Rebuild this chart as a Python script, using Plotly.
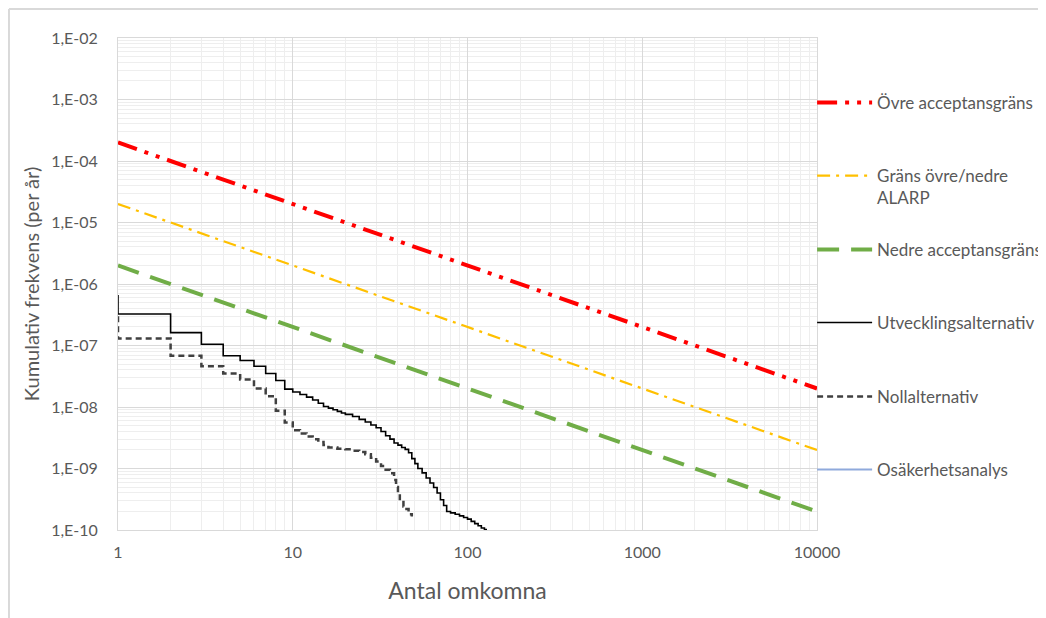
import plotly.graph_objects as go

# ---- data ----
limit_n = [1, 10000]
ovre_acceptans = [2e-4, 2e-8]
grans_alarp = [2e-5, 2e-9]
nedre_acceptans = [2e-6, 2e-10]

utv_n = [1, 1, 2, 3, 4, 5, 6, 7, 8, 9, 10, 11, 12, 13, 14, 15, 16, 17, 18, 19, 20,
         22, 24, 26, 28, 30, 32, 34, 36, 38, 40, 42, 44, 46, 48, 50, 52, 55, 58, 61,
         64, 67, 70, 73, 76, 80, 85, 90, 95, 100, 105, 110, 115, 120, 125, 128]
utv_f = [6.6e-7, 3.25e-7, 1.62e-7, 1.05e-7, 6.8e-8, 5.7e-8, 4.6e-8, 3.5e-8, 2.7e-8, 1.95e-8,
         1.75e-8, 1.6e-8, 1.45e-8, 1.3e-8, 1.15e-8, 1.02e-8, 9.6e-9, 9.0e-9, 8.5e-9, 8.0e-9, 7.6e-9,
         7.0e-9, 6.3e-9, 5.7e-9, 5.1e-9, 4.6e-9, 4.0e-9, 3.4e-9, 3.0e-9, 2.6e-9, 2.4e-9, 2.2e-9,
         2.05e-9, 1.8e-9, 1.45e-9, 1.2e-9, 1.0e-9, 8.5e-10, 7.0e-10, 5.8e-10, 4.9e-10, 4.0e-10,
         3.1e-10, 2.5e-10, 2.0e-10, 1.9e-10, 1.8e-10, 1.7e-10, 1.6e-10, 1.5e-10, 1.38e-10,
         1.27e-10, 1.17e-10, 1.08e-10, 1.02e-10, 1.0e-10]

noll_n = [1, 1, 2, 3, 4, 5, 6, 7, 8, 9, 10, 11, 12, 13, 14, 15, 16, 18, 20, 22, 24, 26, 28,
          30, 32, 34, 36, 38, 39, 40, 41, 43, 44, 46, 48]
noll_f = [3.0e-7, 1.3e-7, 6.8e-8, 4.6e-8, 3.5e-8, 2.8e-8, 2.0e-8, 1.5e-8, 8.7e-9, 5.6e-9,
          4.2e-9, 3.7e-9, 3.3e-9, 3.0e-9, 2.7e-9, 2.4e-9, 2.2e-9, 2.1e-9, 2.05e-9, 1.95e-9,
          1.85e-9, 1.7e-9, 1.5e-9, 1.3e-9, 1.1e-9, 9.5e-10, 8.4e-10, 6.5e-10, 5.0e-10, 4.0e-10,
          3.0e-10, 2.4e-10, 2.2e-10, 1.8e-10, 1.65e-10]

# uncertainty analysis series: no visible points in the chart
osak_n = [None]
osak_f = [None]

y_tickvals = [1e-10, 1e-9, 1e-8, 1e-7, 1e-6, 1e-5, 1e-4, 1e-3, 1e-2]
y_ticktext = ["1,E-10", "1,E-09", "1,E-08", "1,E-07", "1,E-06", "1,E-05", "1,E-04", "1,E-03", "1,E-02"]
x_tickvals = [1, 10, 100, 1000, 10000]
x_ticktext = ["1", "10", "100", "1000", "10000"]

FONT = "Lato, 'Liberation Sans', sans-serif"
GREY_TXT = "#595959"

fig = go.Figure()
fig.add_trace(go.Scatter(x=limit_n, y=ovre_acceptans, mode="lines", name="Övre acceptansgräns",
                         legend="legend",
                         line=dict(color="#ff0000", width=4, dash="20px,8px,4px,8px,4px,8px")))
fig.add_trace(go.Scatter(x=limit_n, y=grans_alarp, mode="lines", name="Gräns övre/nedre<br>ALARP",
                         legend="legend2",
                         line=dict(color="#ffc000", width=2.2, dash="13px,6px,3px,6px")))
fig.add_trace(go.Scatter(x=limit_n, y=nedre_acceptans, mode="lines", name="Nedre acceptansgräns",
                         legend="legend3",
                         line=dict(color="#70ad47", width=4, dash="22px,12px")))
fig.add_trace(go.Scatter(x=utv_n, y=utv_f, mode="lines", name="Utvecklingsalternativ",
                         legend="legend4", line_shape="hv",
                         line=dict(color="#000000", width=1.6)))
fig.add_trace(go.Scatter(x=noll_n, y=noll_f, mode="lines", name="Nollalternativ",
                         legend="legend5", line_shape="hv",
                         line=dict(color="#404040", width=2.5, dash="6px,4px")))
fig.add_trace(go.Scatter(x=osak_n, y=osak_f, mode="lines", name="Osäkerhetsanalys",
                         legend="legend6", showlegend=True,
                         line=dict(color="#8faadc", width=2)))

fig.update_xaxes(type="log", range=[0, 4], tickvals=x_tickvals, ticktext=x_ticktext,
                 showgrid=True, gridcolor="#d9d9d9", gridwidth=1,
                 minor=dict(showgrid=True, dtick="D1", gridcolor="#eeeeee", gridwidth=1, ticks=""),
                 showline=True, linecolor="#d9d9d9", mirror=True, zeroline=False,
                 tickfont=dict(family=FONT, size=16, color=GREY_TXT),
                 ticks="", ticklabelstandoff=8,
                 title=dict(text="Antal omkomna", font=dict(family=FONT, size=23, color=GREY_TXT),
                            standoff=22))
fig.update_yaxes(type="log", range=[-10, -2], tickvals=y_tickvals, ticktext=y_ticktext,
                 showgrid=True, gridcolor="#d9d9d9", gridwidth=1,
                 minor=dict(showgrid=True, dtick="D1", gridcolor="#eeeeee", gridwidth=1, ticks=""),
                 showline=True, linecolor="#d9d9d9", mirror=True, zeroline=False,
                 tickfont=dict(family=FONT, size=16, color=GREY_TXT),
                 ticks="", ticklabelstandoff=16,
                 title=dict(text="Kumulativ frekvens (per år)",
                            font=dict(family=FONT, size=20, color=GREY_TXT), standoff=6))

legend_common = dict(x=0.993, xanchor="left", yanchor="top",
                     font=dict(family=FONT, size=17, color=GREY_TXT),
                     itemwidth=55, valign="top", bgcolor="rgba(0,0,0,0)", borderwidth=0)
legend_y = [0.9044, 0.756, 0.6057, 0.4573, 0.3069, 0.1585]
legends = {}
for i, yy in enumerate(legend_y):
    key = "legend" if i == 0 else f"legend{i + 1}"
    legends[key] = dict(legend_common, y=yy)

fig.update_layout(
    width=1038, height=610,
    margin=dict(l=110, r=229, t=30, b=88, autoexpand=False),
    paper_bgcolor="white", plot_bgcolor="white",
    font=dict(family=FONT, color=GREY_TXT),
    showlegend=True,
    shapes=[
        dict(type="line", xref="paper", yref="paper", x0=-0.156, x1=1.35, y0=1.059, y1=1.059,
             line=dict(color="#d9d9d9", width=2)),
        dict(type="line", xref="paper", yref="paper", x0=-0.156, x1=-0.156, y0=1.059, y1=-0.2,
             line=dict(color="#d9d9d9", width=2)),
    ],
    **legends,
)

fig.write_html("out.html")
